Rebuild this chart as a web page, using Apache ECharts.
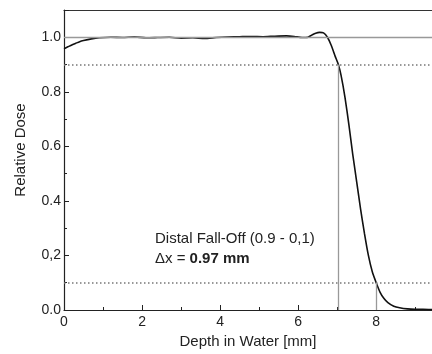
<!DOCTYPE html>
<html>
<head>
<meta charset="utf-8">
<script src="https://cdn.jsdelivr.net/npm/echarts@6/dist/echarts.min.js"></script>
<style>html,body{margin:0;padding:0;background:#fff}#c{width:432px;height:354px}</style>
</head>
<body>
<div id="c"></div>
<script>
// Depth (mm) and relative dose
const depth = [0, 0.1, 0.2, 0.3, 0.4, 0.5, 0.7, 0.9, 1.2, 1.5, 1.8, 2.1, 2.4, 2.7, 3.0, 3.3, 3.6, 3.9, 4.2, 4.5, 4.8, 5.1, 5.4, 5.7, 5.9, 6.1, 6.25, 6.35, 6.45, 6.55, 6.65, 6.75, 6.85, 6.95, 7.03, 7.1, 7.2, 7.3, 7.4, 7.5, 7.6, 7.7, 7.8, 7.9, 8.0, 8.1, 8.2, 8.3, 8.45, 8.6, 8.8, 9.0, 9.2, 9.43];
const dose = [0.958, 0.965, 0.972, 0.978, 0.984, 0.988, 0.994, 0.998, 1.0, 0.999, 1.001, 0.998, 0.999, 1.0, 0.997, 0.998, 0.996, 0.999, 1.001, 1.002, 1.003, 1.002, 1.004, 1.005, 1.003, 0.999, 1.0, 1.008, 1.015, 1.018, 1.016, 1.0, 0.97, 0.93, 0.9, 0.86, 0.78, 0.68, 0.57, 0.47, 0.37, 0.28, 0.2, 0.14, 0.1, 0.065, 0.042, 0.027, 0.014, 0.008, 0.004, 0.003, 0.003, 0.002];
const yTickLabels = ["0.0", "0,2", "0.4", "0.6", "0.8", "1.0"];
const xTickLabels = ["0", "2", "4", "6", "8"];
const refLevel = 1.0;
const fallLevels = [0.9, 0.1];
const fallDepths = [7.03, 8.0];
const annotationLine1 = "Distal Fall-Off (0.9 - 0,1)";
const annotationDelta = "0.97 mm";

const chart = echarts.init(document.getElementById('c'), null, {renderer: 'canvas'});
const FONT = 'Liberation Sans, Arial, sans-serif';
const xMin = 0, xMax = 9.43;

const grayLine = {type: 'solid', color: '#999', width: 1.3};
const dotLine = {type: [1.5, 2.5], color: '#777', width: 1.5};
const markData = [
  [{coord: [xMin, refLevel], lineStyle: grayLine}, {coord: [xMax, refLevel]}],
  [{coord: [xMin, fallLevels[0]], lineStyle: dotLine}, {coord: [xMax, fallLevels[0]]}],
  [{coord: [xMin, fallLevels[1]], lineStyle: dotLine}, {coord: [xMax, fallLevels[1]]}],
  [{coord: [fallDepths[0], 0], lineStyle: grayLine}, {coord: [fallDepths[0], fallLevels[0]]}],
  [{coord: [fallDepths[1], 0], lineStyle: grayLine}, {coord: [fallDepths[1], fallLevels[1]]}]
];

chart.setOption({
  animation: false,
  backgroundColor: '#fff',
  grid: {left: 64, right: 0, top: 10, bottom: 44, containLabel: false},
  xAxis: [{
    type: 'value', min: xMin, max: xMax, interval: 2,
    name: 'Depth in Water [mm]', nameLocation: 'middle', nameGap: 21,
    nameTextStyle: {fontFamily: FONT, fontSize: 15, color: '#222'},
    axisLine: {show: true, lineStyle: {color: '#222', width: 1.2}},
    axisTick: {show: true, inside: true, length: 5, lineStyle: {color: '#222'}},
    minorTick: {show: true, splitNumber: 2, length: 3, lineStyle: {color: '#222'}},
    splitLine: {show: false},
    axisLabel: {fontFamily: FONT, fontSize: 14, color: '#222', margin: 5,
      showMaxLabel: false,
      formatter: v => { const i = Math.round(v / 2); return (Math.abs(v - i * 2) < 1e-6 && xTickLabels[i] !== undefined) ? xTickLabels[i] : ''; }}
  }, {
    type: 'value', position: 'top', min: xMin, max: xMax,
    axisLine: {show: true, lineStyle: {color: '#333', width: 1.2}},
    axisTick: {show: false}, axisLabel: {show: false}, splitLine: {show: false}
  }],
  yAxis: {
    type: 'value', min: 0, max: 1.1, interval: 0.2,
    name: 'Relative Dose', nameLocation: 'middle', nameGap: 36,
    nameTextStyle: {fontFamily: FONT, fontSize: 15, color: '#222', padding: [0, 0, 0, 20]},
    axisLine: {show: true, lineStyle: {color: '#222', width: 1.2}},
    axisTick: {show: true, inside: true, length: 5, lineStyle: {color: '#222'}},
    minorTick: {show: true, splitNumber: 2, length: 3, lineStyle: {color: '#222'}},
    splitLine: {show: false},
    axisLabel: {fontFamily: FONT, fontSize: 14, color: '#222', margin: 3,
      showMaxLabel: false,
      formatter: v => { const i = Math.round(v / 0.2); return (Math.abs(v - i * 0.2) < 1e-6 && yTickLabels[i] !== undefined) ? yTickLabels[i] : ''; }}
  },
  series: [{
    type: 'line', xAxisIndex: 0,
    data: depth.map((d, i) => [d, dose[i]]),
    showSymbol: false, smooth: 0.2,
    lineStyle: {color: '#111', width: 1.6},
    markLine: {silent: true, symbol: 'none', label: {show: false}, data: markData},
    z: 3
  }],
  graphic: [{
    type: 'text', left: 155, top: 231,
    style: {text: annotationLine1, font: '15px ' + FONT, fill: '#222'}
  }, {
    type: 'text', left: 155, top: 251,
    style: {
      text: '{n|Δx = }{b|' + annotationDelta + '}',
      rich: {n: {font: '15px ' + FONT, fill: '#222'}, b: {font: 'bold 15px ' + FONT, fill: '#222'}}
    }
  }]
});
</script>
</body>
</html>
